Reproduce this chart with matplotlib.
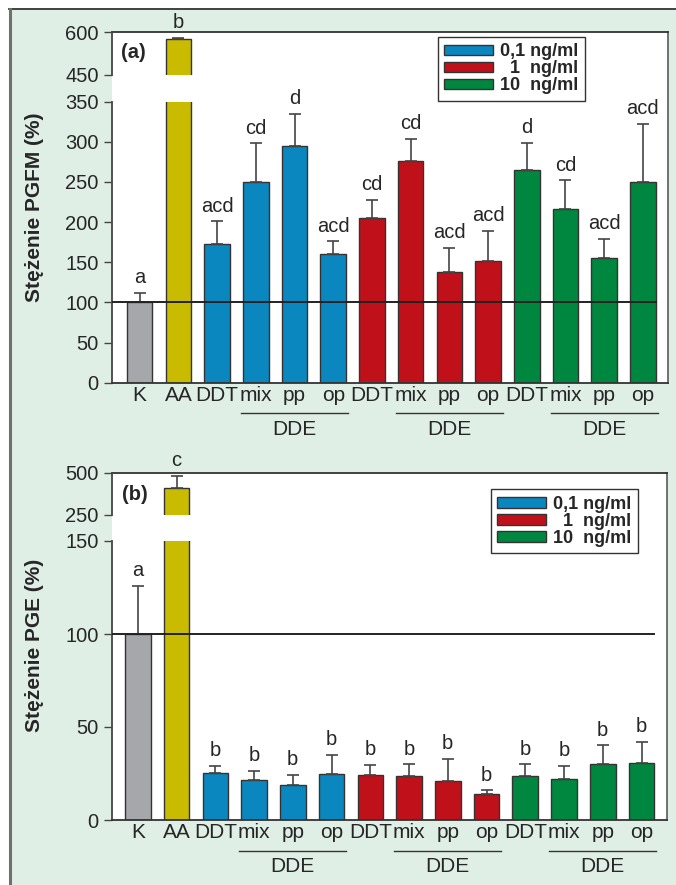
import numpy as np
import matplotlib
matplotlib.use("Agg")
import matplotlib.pyplot as plt
from matplotlib.patches import Patch, Rectangle
from matplotlib.lines import Line2D
from matplotlib.transforms import offset_copy

plt.rcParams['font.family'] = ['Liberation Sans', 'DejaVu Sans']

W, H = 676, 885

# data
groups = ["K", "AA", "DDT", "mix", "pp", "op", "DDT", "mix", "pp", "op", "DDT", "mix", "pp", "op"]
dde_starts = [3, 7, 11]
legend_labels = ["0,1 ng/ml", "  1  ng/ml", "10  ng/ml"]

pgfm_mean = [100, 574, 173, 250, 295, 160, 205, 276, 138, 152, 265, 216, 155, 250]
pgfm_err = [12, 6, 28, 48, 40, 16, 23, 28, 30, 37, 34, 36, 24, 72]
pgfm_sig = ["a", "b", "acd", "cd", "d", "acd", "cd", "cd", "acd", "acd", "d", "cd", "acd", "acd"]

pge_mean = [100, 412, 25.2, 21.4, 18.7, 24.7, 24.3, 23.9, 21.0, 14.0, 23.9, 22.3, 30.2, 30.9]
pge_err = [26, 72, 4, 5, 5.4, 10.5, 5.5, 6, 12, 2, 6, 7, 10, 11]
pge_sig = ["a", "c", "b", "b", "b", "b", "b", "b", "b", "b", "b", "b", "b", "b"]

grey, yellow = "#a6a7ab", "#c9bb00"
dose_colors = ["#0a87bf", "#c0111b", "#00873f"]
colors = [grey, yellow] + [dose_colors[0]] * 4 + [dose_colors[1]] * 4 + [dose_colors[2]] * 4

bg_green = "#e0efe5"
txt = "#262626"
width = 0.66
x = np.arange(len(groups))

fig = plt.figure(figsize=(W / 100, H / 100), dpi=100, facecolor="white")

# green page background with border lines
fig.add_artist(Rectangle((10 / W, 0), 1, 1 - 10 / H, transform=fig.transFigure,
                         facecolor=bg_green, edgecolor="none", zorder=-5))
fig.add_artist(Line2D([9 / W, 1], [1 - 9 / H, 1 - 9 / H], transform=fig.transFigure,
                      color="#333333", lw=1.3, zorder=-4))
fig.add_artist(Line2D([9.5 / W, 9.5 / W], [0, 1 - 9 / H], transform=fig.transFigure,
                      color="#707070", lw=2.2, zorder=-4))


def fbox(x0, y0, x1, y1):
    return [x0 / W, 1 - y1 / H, (x1 - x0) / W, (y1 - y0) / H]


def panel(frame, upper, lower, xlim, ylow, yhigh, lticks, hticks,
          mean, err, sig, ylabel, ylab_y, tag, tag_xy, leg_xy):
    axf = fig.add_axes(fbox(*frame))
    axf.set_facecolor("white")
    axf.set_xticks([])
    axf.set_yticks([])
    for s in ["left", "bottom"]:
        axf.spines[s].set_visible(False)
    axf.spines["top"].set_color("#333333")
    axf.spines["top"].set_linewidth(1.3)
    axf.spines["right"].set_color("#666666")
    axf.spines["right"].set_linewidth(1.3)

    axu = fig.add_axes(fbox(*upper))
    axl = fig.add_axes(fbox(*lower))
    for ax, lim, ticks in [(axu, yhigh, hticks), (axl, ylow, lticks)]:
        ax.set_facecolor("none")
        ax.bar(x, mean, width, color=colors, edgecolor="#333333", linewidth=1, zorder=2)
        ax.errorbar(x, mean, yerr=[np.zeros(len(x)), err], fmt="none", ecolor="#444444",
                    elinewidth=1.2, capsize=4, capthick=1.2, zorder=3)
        ax.set_xlim(*xlim)
        ax.set_ylim(*lim)
        ax.set_yticks(ticks)
        ax.tick_params(axis="y", length=6, width=1, pad=3.5, labelsize=14.5,
                       colors="#444444", labelcolor=txt)
        ax.spines["right"].set_visible(False)
        ax.spines["top"].set_visible(False)
        ax.spines["left"].set_color("#444444")
        ax.spines["left"].set_linewidth(1.3)

    axu.spines["bottom"].set_visible(False)
    axu.set_xticks([])
    axl.spines["bottom"].set_color("#333333")
    axl.spines["bottom"].set_linewidth(1.3)
    axl.set_xticks(x)
    axl.set_xticklabels(groups)
    axl.tick_params(axis="x", length=0, pad=2.5, labelsize=15, labelcolor=txt)

    # significance letters
    for xi, m, e, s in zip(x, mean, err, sig):
        ax = axu if m + e > ylow[1] else axl
        ax.annotate(s, xy=(xi, m + e), xytext=(0, 7), textcoords="offset points",
                    ha="center", va="baseline", fontsize=14.5, color=txt,
                    annotation_clip=False)

    # reference line at 100 %
    axl.plot([xlim[0], x[-1] + width / 2], [100, 100], color="#222222", lw=1.4, zorder=4)

    # DDE brackets
    t_line = offset_copy(axl.get_xaxis_transform(), fig=fig, y=-30.5, units="dots")
    t_text = offset_copy(axl.get_xaxis_transform(), fig=fig, y=-47, units="dots")
    for st in dde_starts:
        axl.plot([st - 0.38, st + 2.38], [0, 0], color="#333333", lw=1,
                 transform=t_line, clip_on=False)
        axl.text(st + 1, 0, "DDE", transform=t_text, ha="center", va="center",
                 fontsize=15, color=txt)

    fig.text(35 / W, 1 - ylab_y / H, ylabel, rotation=90, ha="center", va="center",
             fontsize=15, fontweight="bold", color=txt)
    fig.text(tag_xy[0] / W, 1 - tag_xy[1] / H, tag, ha="left", va="center",
             fontsize=14.5, fontweight="bold", color=txt)

    handles = [Patch(facecolor=c, edgecolor="#333333", linewidth=1) for c in dose_colors]
    leg = fig.legend(handles, legend_labels, loc="upper left",
                     bbox_to_anchor=(leg_xy[0] / W, 1 - leg_xy[1] / H),
                     bbox_transform=fig.transFigure, frameon=True, fancybox=False,
                     edgecolor="#333333", framealpha=1, borderaxespad=0,
                     prop=dict(weight="bold", size=13), handlelength=2.7,
                     handleheight=0.53, handletextpad=0.4, labelspacing=0.0,
                     borderpad=0.35)
    leg.get_frame().set_linewidth(1)
    for t in leg.get_texts():
        t.set_color(txt)


panel((112, 32, 668, 382.7), (112, 32, 668, 75), (112, 101.7, 668, 382.7),
      (-0.716, 13.65), (0, 350), (450, 600),
      [0, 50, 100, 150, 200, 250, 300, 350], [450, 600],
      pgfm_mean, pgfm_err, pgfm_sig, "Stężenie PGFM (%)", 207, "(a)", (121, 52), (438, 37))

panel((112, 473, 666.7, 820), (112, 473, 666.7, 515), (112, 541, 666.7, 820),
      (-0.666, 13.65), (0, 150), (250, 500),
      [0, 50, 100, 150], [250, 500],
      pge_mean, pge_err, pge_sig, "Stężenie PGE (%)", 645, "(b)", (122, 495), (490.7, 489.3))

fig.savefig("out.png", dpi=100)
